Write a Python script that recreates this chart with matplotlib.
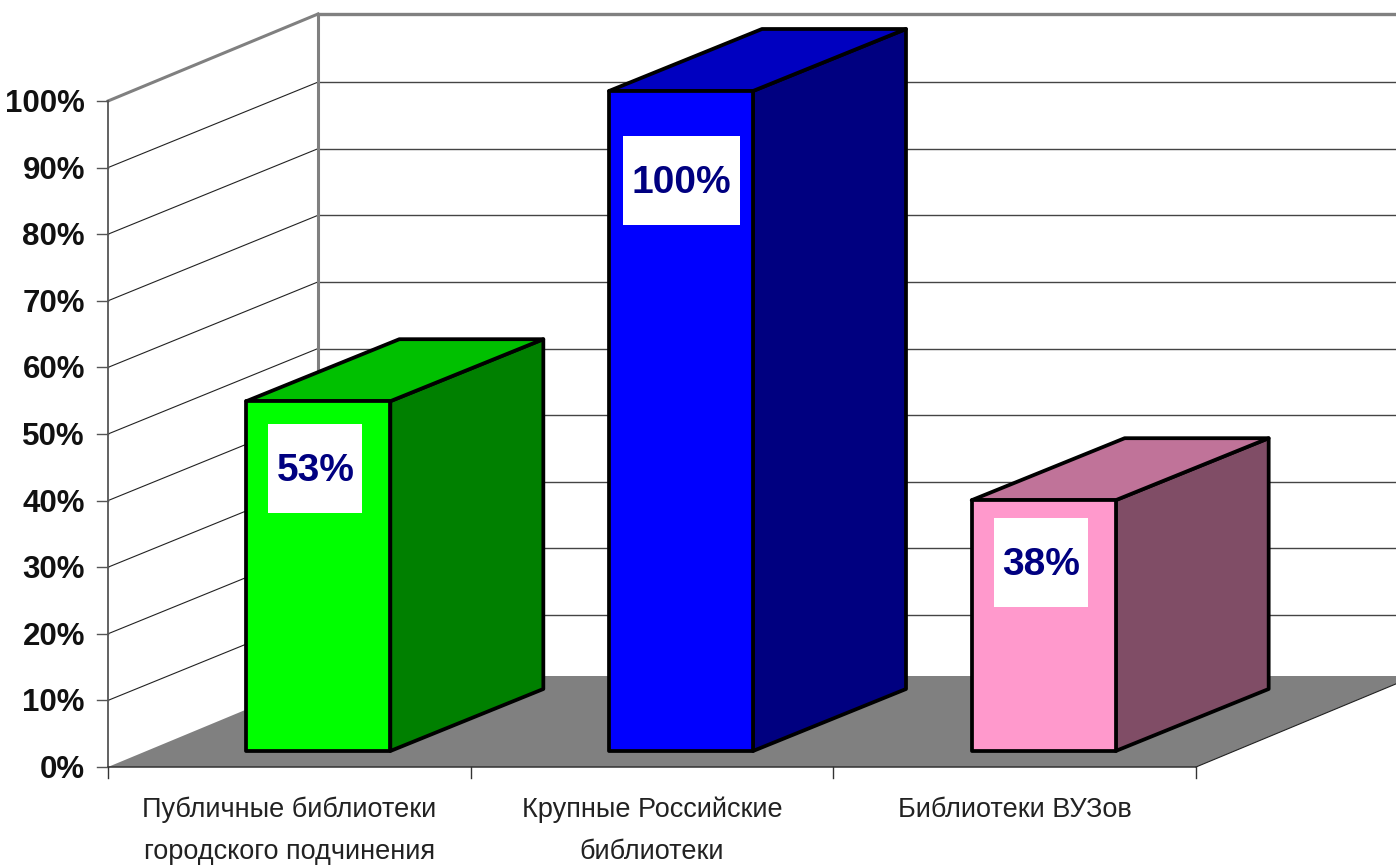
import matplotlib
matplotlib.use('Agg')
import matplotlib.pyplot as plt
from matplotlib.patches import Polygon, Rectangle

categories = ["Публичные библиотеки\nгородского подчинения",
              "Крупные Российские\nбиблиотеки",
              "Библиотеки ВУЗов"]
values = [53, 100, 38]
value_labels = ["53%", "100%", "38%"]
y_ticks = [0, 10, 20, 30, 40, 50, 60, 70, 80, 90, 100]

front_colors = ["#00ff00", "#0000ff", "#ff99cc"]
side_colors = ["#008000", "#000080", "#804d66"]
top_colors = ["#00c000", "#0000c0", "#c07399"]

# chart box in pixels
X0, X1 = 108, 1196
Y0, PX_PCT = 767, 6.66
DX, DY = 210, 87          # depth of the box
GRID_DY = 85.5
FLOOR_DX, FLOOR_DY = 219, 91
BAR_W, BAR_DX, BAR_DY = 144, 153, 62
BAR_LIFT, BAR_SHIFT = 16, 29
BAR_PCT = 6.6
LABEL_Y = [468, 180, 562]
FONT = 'Liberation Sans'


def py(v):
    return Y0 - v * PX_PCT


fig = plt.figure(figsize=(13.96, 8.65), dpi=100)
ax = fig.add_axes([0, 0, 1, 1])
ax.set_xlim(0, 1396)
ax.set_ylim(865, 0)
ax.axis('off')

# floor
ax.add_patch(Polygon([(X0, Y0), (X1, Y0), (X1 + FLOOR_DX, Y0 - FLOOR_DY), (X0 + FLOOR_DX, Y0 - FLOOR_DY)],
                     closed=True, facecolor='#808080', edgecolor='none', zorder=1))

# grid lines on both walls
for t in y_ticks[1:-1]:
    ax.plot([X0, X0 + DX], [py(t), py(t) - GRID_DY], color='#222222', lw=0.8, zorder=2)
    ax.plot([X0 + DX, 1396], [py(t) - GRID_DY, py(t) - GRID_DY], color='#444444', lw=1.0, zorder=2)

# walls outline
ax.plot([X0 + DX, X0 + DX], [py(0) - DY, py(100) - DY], color='#808080', lw=2.2, zorder=2)
ax.plot([X0, X0 + DX], [py(100), py(100) - DY], color='#808080', lw=2.2, zorder=2)
ax.plot([X0 + DX, 1396], [py(100) - DY, py(100) - DY], color='#808080', lw=2.4, zorder=2)
ax.plot([X1, X1 + FLOOR_DX], [Y0, Y0 - FLOOR_DY], color='#222222', lw=0.8, zorder=2)

# axes
ax.plot([X0, X0], [py(0), py(100)], color='#555555', lw=1.3, zorder=3)
ax.plot([X0, X1], [Y0, Y0], color='#333333', lw=1.1, zorder=3)
for t in y_ticks:
    ax.plot([X0 - 11, X0], [py(t), py(t)], color='#555555', lw=1.0, zorder=3)
    ax.text(85, py(t) + 3, f"{t}%", ha='right', va='center', fontsize=22.5,
            fontweight='bold', family=FONT, color='#111111')

cat_w = (X1 - X0) / len(categories)
for i in range(len(categories) + 1):
    ax.plot([X0 + i * cat_w] * 2, [Y0, Y0 + 11], color='#333333', lw=1.0, zorder=3)

# bars
for i, v in enumerate(values):
    cx = X0 + (i + 0.5) * cat_w + BAR_SHIFT
    l, r = cx - BAR_W / 2, cx + BAR_W / 2
    b = Y0 - BAR_LIFT
    t = b - v * BAR_PCT
    style = dict(closed=True, edgecolor='black', linewidth=2.7, joinstyle='round', zorder=4)
    ax.add_patch(Polygon([(r, b), (r + BAR_DX, b - BAR_DY), (r + BAR_DX, t - BAR_DY), (r, t)],
                         facecolor=side_colors[i], **style))
    ax.add_patch(Polygon([(l, t), (r, t), (r + BAR_DX, t - BAR_DY), (l + BAR_DX, t - BAR_DY)],
                         facecolor=top_colors[i], **style))
    ax.add_patch(Polygon([(l, b), (r, b), (r, t), (l, t)],
                         facecolor=front_colors[i], **style))

    # value label in a white box
    box_w = 117 if v == 100 else 94
    lx = cx - 3 if v != 100 else cx
    ax.add_patch(Rectangle((lx - box_w / 2, LABEL_Y[i] - 44), box_w, 89,
                           facecolor='white', edgecolor='none', zorder=5))
    ax.text(lx, LABEL_Y[i] + 3, value_labels[i], ha='center', va='center', fontsize=28,
            fontweight='bold', family=FONT, color='#000080', zorder=6)

    # category label, one text per line
    for line, y in zip(categories[i].split("\n"), [810, 852]):
        ax.text(X0 + (i + 0.5) * cat_w, y, line,
                ha='center', va='center', fontsize=19.5, family=FONT, color='#222222')

fig.savefig('out.png', dpi=100, facecolor='white')
